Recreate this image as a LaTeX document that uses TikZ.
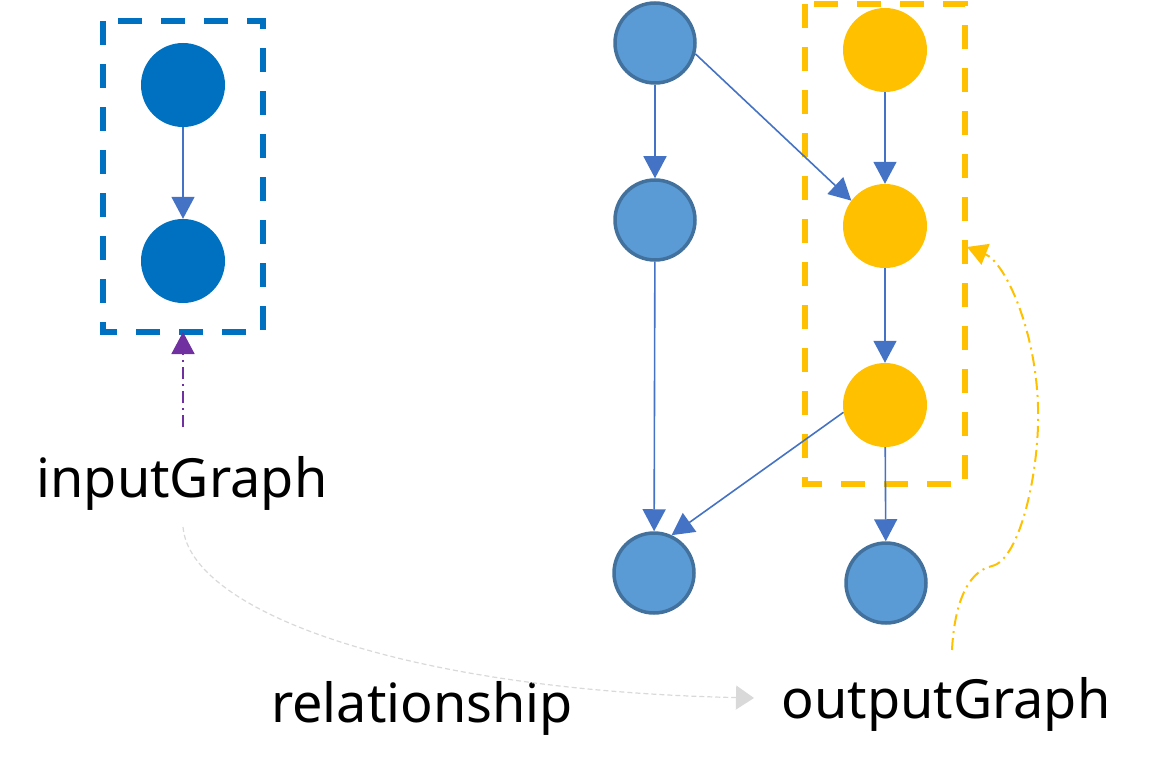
\documentclass[tikz,border=0pt]{standalone}
\usepackage{fontspec}
\setmainfont{Noto Sans}
\usetikzlibrary{arrows.meta}
\definecolor{dblue}{HTML}{0070C0}
\definecolor{lblue}{HTML}{5B9BD5}
\definecolor{lbluebd}{HTML}{41719C}
\definecolor{arrblue}{HTML}{4472C4}
\definecolor{ygold}{HTML}{FFC000}
\definecolor{purp}{HTML}{7030A0}
\definecolor{lgray}{HTML}{D9D9D9}
\begin{document}
\begin{tikzpicture}[x=1pt,y=-1pt,
  dnode/.style={circle,fill=dblue,minimum size=84pt,inner sep=0pt},
  bnode/.style={circle,fill=lblue,draw=lbluebd,line width=3.5pt,minimum size=80pt,inner sep=0pt},
  ynode/.style={circle,fill=ygold,minimum size=84pt,inner sep=0pt},
  arr/.style={draw=arrblue,line width=1.6pt,-{Triangle[length=22pt,width=23pt]}},
  boxline/.style={line width=5.5pt,dash pattern=on 24pt off 19pt},
  lbl/.style={font=\fontsize{54}{60}\selectfont,anchor=base,inner sep=0pt}]
\useasboundingbox (0,0) rectangle (1152,773);
% left input graph
\draw[boxline,draw=dblue] (103,21) rectangle (263,332);
\node[dnode] (l1) at (183,85) {};
\node[dnode] (l2) at (183,261) {};
\draw[arr] (l1) -- (l2);
\coordinate (lboxs) at (183,332);
\coordinate (igtop) at (183,427);
\draw[purp,line width=1.6pt,dash pattern=on 12pt off 5pt on 2pt off 5pt,-{Triangle[length=22pt,width=23pt]}] (igtop) -- (lboxs);
\node[lbl] (ig) at (182,497) {inputGraph};
% right graph
\draw[boxline,draw=ygold] (805,4) rectangle (965,484);
\node[bnode] (b1) at (655,43) {};
\node[bnode] (b2) at (655,220) {};
\node[bnode] (b3) at (654,573) {};
\node[bnode] (b4) at (886,583) {};
\node[ynode] (y1) at (885,50) {};
\node[ynode] (y2) at (885,226) {};
\node[ynode] (y3) at (885,405) {};
\draw[arr] (b1) -- (b2);
\draw[arr] (b1.-15) -- (y2.143);
\draw[arr] (y1) -- (y2);
\draw[arr] (y2) -- (y3);
\draw[arr] (b2) -- (b3);
\draw[arr] (y3.190) -- (b3.65);
\draw[arr] (y3) -- (b4);
% labels
\node[lbl] (rel) at (422,722) {relationship};
\node[lbl] (og) at (946,718) {outputGraph};
% relationship curve
\coordinate (relst) at (183,527);
\coordinate (relend) at (754,698);
\draw[lgray,line width=1.2pt,dash pattern=on 5pt off 3pt,-{Triangle[length=18pt,width=24pt]}]
  (relst) .. controls (190,610) and (400,690) .. (relend);
% output curve
\coordinate (ogst) at (952,650);
\coordinate (ybox) at (967,247);
\draw[ygold,line width=2pt,dash pattern=on 12pt off 5pt on 2pt off 5pt,-{Triangle[length=20pt,width=22pt]}]
  (ogst) .. controls (954,610) and (965,572) .. (992,566)
  .. controls (1020,560) and (1040,470) .. (1038,407)
  .. controls (1036,330) and (1005,262) .. (ybox);
\end{tikzpicture}
\end{document}
